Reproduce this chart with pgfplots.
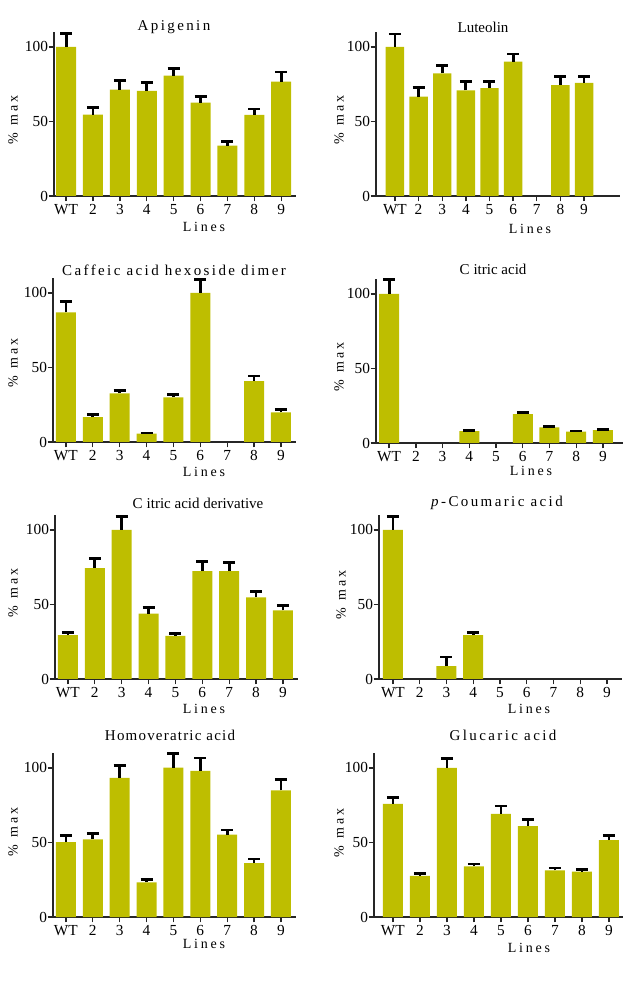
\documentclass[border=0pt]{standalone}
\usepackage{fontspec}
\setmainfont{Liberation Serif}
\newfontfamily\spacedA[LetterSpace=16]{Liberation Serif}
\newfontfamily\spacedB[LetterSpace=8]{Liberation Serif}
\newfontfamily\spacedL[LetterSpace=20]{Liberation Serif}
\usepackage{pgfplots}
\pgfplotsset{compat=1.18}
\definecolor{barolive}{RGB}{190,190,0}

\newcommand\ttl{\fontsize{11.25}{13}\selectfont}
\newcommand\lbl{\fontsize{10.5}{12}\selectfont}

\pgfplotsset{
  panel/.style={
    scale only axis,
    anchor=south west,
    ymin=0, ymax=110,
    ytick={0,50,100},
    xtick={0,...,8},
    xticklabels={WT,2,3,4,5,6,7,8,9},
    axis x line*=bottom,
    axis y line*=left,
    axis line style={line width=1pt, black!85},
    every tick/.style={line width=1pt, black!85},
    major tick length=4pt,
    tick align=outside,
    ticklabel style={font=\fontsize{11.5}{12}\selectfont, black},
    xticklabel style={yshift=1pt},
    yticklabel style={xshift=3pt},
    /pgf/number format/assume math mode=true,
    ybar, bar width=15pt,
    clip=false,
  },
  olivebars/.style={
    fill=barolive, draw=none,
    error bars/.cd,
      y dir=plus, y explicit,
      error mark=-,
      error bar style={draw=black, line width=2.1pt},
      error mark options={draw=black, line width=2.1pt, mark size=4.5pt, rotate=90},
  },
}

\begin{document}
\begin{tikzpicture}
\path (0,0) rectangle (474pt,738pt);

% Apigenin
\begin{axis}[panel, at={(40.5pt,591pt)}, width=181.5pt, height=123pt,
  xmin=-0.45, xmax=8.55]
\addplot[olivebars] coordinates {
  (0,100) +- (0,9)   (1,54.6) +- (0,4.7) (2,71.4) +- (0,6)
  (3,70.5) +- (0,5.6) (4,80.8) +- (0,4.7) (5,62.6) +- (0,4.3)
  (6,33.8) +- (0,2.5) (7,54.4) +- (0,4)   (8,76.7) +- (0,6.5)};
\end{axis}

% Luteolin
\begin{axis}[panel, at={(282pt,591pt)}, width=183pt, height=123pt,
  xmin=-0.8, xmax=9.52, bar width=13.8pt]
\addplot[olivebars] coordinates {
  (0,100) +- (0,8.7) (1,66.7) +- (0,6) (2,82.3) +- (0,5)
  (3,70.9) +- (0,6) (4,72.3) +- (0,4.3) (5,90.2) +- (0,5)
  (7,74.3) +- (0,6) (8,75.8) +- (0,4.3)};
\end{axis}

% Caffeic acid hexoside dimer
\begin{axis}[panel, at={(39.75pt,406.5pt)}, width=182.25pt, height=123pt,
  xmin=-0.48, xmax=8.56]
\addplot[olivebars] coordinates {
  (0,87) +- (0,7)   (1,16.7) +- (0,1.6) (2,32.6) +- (0,2.2)
  (3,5.6) +- (0,0.4) (4,29.9) +- (0,2)  (5,100) +- (0,9)
  (7,40.8) +- (0,3.4) (8,19.9) +- (0,1.8)};
\end{axis}

% Citric acid
\begin{axis}[panel, at={(282pt,405.75pt)}, width=185.25pt, height=123pt,
  xmin=-0.49, xmax=8.75]
\addplot[olivebars] coordinates {
  (0,100) +- (0,9.4) (3,8.0) +- (0,0.4) (5,19.4) +- (0,1.2)
  (6,10.5) +- (0,0.5) (7,7.6) +- (0,0.4) (8,8.7) +- (0,0.5)};
\end{axis}

% Citric acid derivative
\begin{axis}[panel, at={(41.25pt,228.75pt)}, width=182.25pt, height=123pt,
  xmin=-0.48, xmax=8.56]
\addplot[olivebars] coordinates {
  (0,29.4) +- (0,1.8) (1,74.4) +- (0,6.3) (2,100) +- (0,9)
  (3,43.9) +- (0,3.9) (4,28.9) +- (0,1.8) (5,72.4) +- (0,6.3)
  (6,72.4) +- (0,5.9) (7,54.7) +- (0,4)   (8,46) +- (0,3.4)};
\end{axis}

% p-Coumaric acid
\begin{axis}[panel, at={(284.25pt,228.75pt)}, width=182.25pt, height=123pt,
  xmin=-0.52, xmax=8.56]
\addplot[olivebars] coordinates {
  (0,100) +- (0,9) (2,8.7) +- (0,6) (3,29.5) +- (0,1.8)};
\end{axis}

% Homoveratric acid
\begin{axis}[panel, at={(39.75pt,50.25pt)}, width=182.25pt, height=123pt,
  xmin=-0.48, xmax=8.56]
\addplot[olivebars] coordinates {
  (0,50.3) +- (0,4.3) (1,52.1) +- (0,4)   (2,93.3) +- (0,8.5)
  (3,23.3) +- (0,1.8) (4,100.2) +- (0,9.2) (5,98) +- (0,8.7)
  (6,55.3) +- (0,3.1) (7,36.2) +- (0,2.7) (8,85) +- (0,7.4)};
\end{axis}

% Glucaric acid
\begin{axis}[panel, at={(280.5pt,50.25pt)}, width=186.75pt, height=123pt,
  xmin=-0.70, xmax=8.52]
\addplot[olivebars] coordinates {
  (0,75.8) +- (0,4.3) (1,27.5) +- (0,1.6) (2,100) +- (0,6.5)
  (3,34) +- (0,1.6)   (4,69.1) +- (0,5.4) (5,60.9) +- (0,4.4)
  (6,31.3) +- (0,1.6) (7,30.4) +- (0,1.4) (8,51.5) +- (0,3.3)};
\end{axis}

% panel titles
\node[font=\ttl\spacedA] at (130.5pt,717.75pt) {Apigenin};
\node[font=\ttl] at (362.25pt,717.75pt) {Luteolin};
\node[font=\ttl\spacedA] at (130.5pt,535.5pt) {Caffeic acid hexoside dimer};
\node[font=\ttl] at (369.75pt,536.25pt) {C\hspace{3pt}itric acid};
\node[font=\ttl] at (148.5pt,360.75pt) {C\hspace{3pt}itric acid derivative};
\node[font=\ttl\spacedA] at (372.75pt,360.75pt) {\textit{p}-Coumaric acid};
\node[font=\ttl\spacedB] at (127.5pt,186.75pt) {Homoveratric acid};
\node[font=\ttl\spacedA] at (377.25pt,186.75pt) {Glucaric acid};

% x-axis labels
\foreach \p in {(153pt,567.5pt),(397.5pt,566pt),(153pt,383.75pt),(398.25pt,384.5pt),
                (153pt,206pt),(396.75pt,206pt),(153pt,29.75pt),(396.75pt,26.75pt)}
  \node[font=\lbl\spacedL] at \p {Lines};

% y-axis labels
\foreach \p in {(9.75pt,648pt),(254.25pt,648pt),(9.75pt,465.75pt),(254.25pt,462.75pt),
                (9.75pt,293.25pt),(255.75pt,291.75pt),(9.75pt,114pt),(254.25pt,113.25pt)}
  \node[font=\lbl\spacedL, rotate=90] at \p {\%\hspace{5pt}max};
\end{tikzpicture}
\end{document}
